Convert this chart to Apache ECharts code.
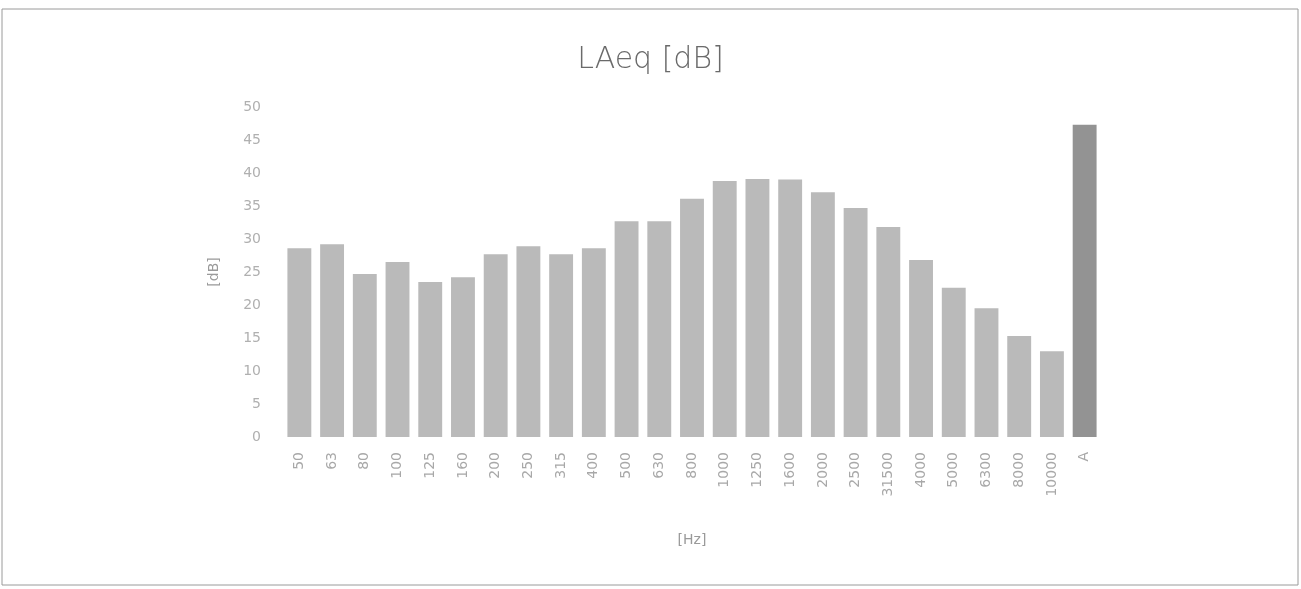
<!DOCTYPE html>
<html>
<head>
<meta charset="utf-8">
<script src="https://cdn.jsdelivr.net/npm/echarts@6/dist/echarts.min.js"></script>
<style>
	html, body { margin: 0; padding: 0; background: #fff; }
	#chart { width: 1301px; height: 589px; }
</style>
</head>
<body>
<div id="chart"></div>
<script>
// third-octave bands (Hz) plus the A-weighted total
const bands = ['50', '63', '80', '100', '125', '160', '200', '250', '315', '400', '500', '630', '800',
	'1000', '1250', '1600', '2000', '2500', '31500', '4000', '5000', '6300', '8000', '10000', 'A']
const laeq = [28.6, 29.2, 24.7, 26.5, 23.5, 24.2, 27.7, 28.9, 27.7, 28.6, 32.7, 32.7, 36.1,
	38.8, 39.1, 39.0, 37.1, 34.7, 31.8, 26.8, 22.6, 19.5, 15.3, 13.0, 47.3]
const yMin = 0
const yMax = 50
const yStep = 5

const barColor = '#bababa'
const totalColor = '#939393'
const labelFont = 'DejaVu Sans'

const chart = echarts.init(document.getElementById('chart'))
chart.setOption({
	animation: false,
	title: {
		text: 'LAeq [dB]',
		left: 'center',
		top: 40,
		textStyle: {
			color: '#6a6a6a',
			fontFamily: labelFont,
			fontWeight: 200,
			fontSize: 30
		}
	},
	graphic: [{
		type: 'rect',
		shape: { x: 2, y: 9, width: 1296, height: 576 },
		style: { fill: 'none', stroke: '#9a9a9a', lineWidth: 1 },
		silent: true
	}],
	grid: { left: 283, right: 200, top: 107, bottom: 152 },
	xAxis: {
		type: 'category',
		data: bands,
		name: '[Hz]',
		nameLocation: 'middle',
		nameGap: 96,
		nameTextStyle: { color: '#9a9a9a', fontFamily: labelFont, fontSize: 14 },
		axisLine: { show: false },
		axisTick: { show: false },
		axisLabel: {
			rotate: 90,
			margin: 15,
			interval: 0,
			color: '#a8a8a8',
			fontFamily: labelFont,
			fontSize: 14
		}
	},
	yAxis: {
		type: 'value',
		min: yMin,
		max: yMax,
		interval: yStep,
		name: '[dB]',
		nameLocation: 'middle',
		nameGap: 62,
		nameTextStyle: { color: '#9a9a9a', fontFamily: labelFont, fontSize: 14 },
		axisLine: { show: false },
		axisTick: { show: false },
		splitLine: { show: false },
		axisLabel: {
			margin: 22,
			color: '#b0b0b0',
			fontFamily: labelFont,
			fontSize: 14
		}
	},
	series: [{
		type: 'bar',
		barCategoryGap: '27%',
		data: laeq.map((v, i) => ({
			value: v,
			itemStyle: { color: bands[i] === 'A' ? totalColor : barColor }
		}))
	}]
})
</script>
</body>
</html>
